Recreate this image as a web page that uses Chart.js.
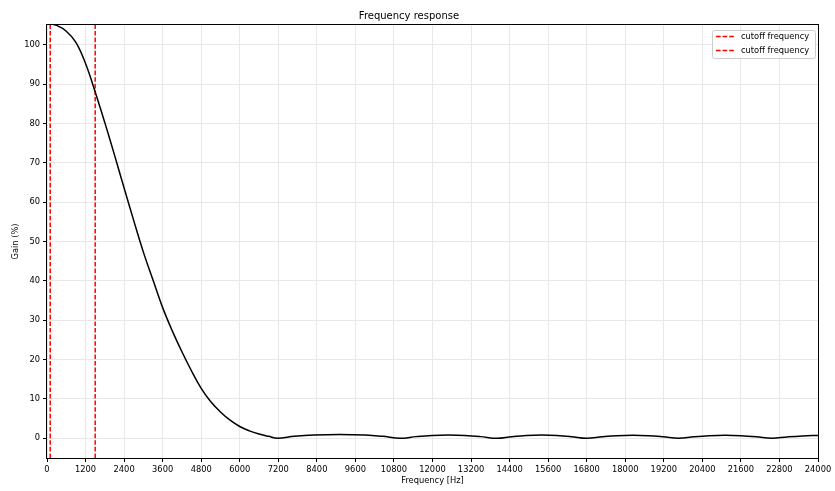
<!DOCTYPE html>
<html>
<head>
<meta charset="utf-8">
<script src="https://cdn.jsdelivr.net/npm/chart.js@4.4.1/dist/chart.umd.min.js"></script>
<style>
  html, body { margin: 0; padding: 0; background: #fff; }
  #wrap { width: 835px; height: 491px; }
</style>
</head>
<body>
<div id="wrap"><canvas id="chart" width="835" height="491"></canvas></div>
<script>
// frequency response (Hz, % gain)
const freqs = [
  0, 300, 600, 900, 1200, 1500, 1800, 2100, 2400, 2700, 3000, 3300,
  3600, 3900, 4200, 4500, 4800, 5100, 5400, 5700, 6000, 6300, 6600, 6900,
  7170, 7700, 8300, 9100, 9900, 10450,
  10990, 11490, 11990, 12500, 13000, 13500,
  14000, 14470, 14930, 15400, 15870, 16330,
  16800, 17280, 17750, 18230, 18710, 19180,
  19660, 20140, 20620, 21110, 21590, 22080,
  22560, 23040, 23520, 24000,
];
const gains = [
  105.4, 104.9, 103.4, 100.6, 95.2, 88.0, 80.2, 72.0, 63.6, 55.3, 47.3, 40.2,
  33.2, 27.3, 22.0, 17.1, 12.7, 9.3, 6.7, 4.6, 3.0, 1.9, 1.1, 0.5,
  0, 0.5, 0.85, 1.0, 0.85, 0.5,
  0, 0.43, 0.74, 0.85, 0.74, 0.43,
  0, 0.41, 0.71, 0.82, 0.71, 0.41,
  0, 0.39, 0.68, 0.78, 0.68, 0.39,
  0, 0.38, 0.65, 0.75, 0.65, 0.38,
  0, 0.36, 0.62, 0.72,
];
const cutoffs = [100, 1500];
const cutoffLabel = 'cutoff frequency';
const xTickValues = [
  0, 1200, 2400, 3600, 4800, 6000, 7200, 8400, 9600, 10800, 12000, 13200,
  14400, 15600, 16800, 18000, 19200, 20400, 21600, 22800, 24000,
];
const yTickValues = [0, 10, 20, 30, 40, 50, 60, 70, 80, 90, 100];

const FONT = 'DejaVu Sans';
const GRID = '#e8e8e8';

const responseData = freqs.map((f, i) => ({x: f, y: gains[i]}));

const cutoffSets = cutoffs.map((c) => ({
  label: cutoffLabel,
  data: [{x: c, y: -5}, {x: c, y: 105}],
  borderColor: '#ff0000',
  borderWidth: 1.5,
  borderDash: [4.6, 2],
  pointRadius: 0,
  fill: false,
}));

// matplotlib-like box around the axes plus the legend in the top right corner
const framePlugin = {
  id: 'frame',
  afterDatasetsDraw(chart) {
    const {ctx, chartArea: a} = chart;
    ctx.save();
    ctx.strokeStyle = '#000';
    ctx.lineWidth = 1;
    ctx.strokeRect(Math.round(a.left) - 0.5, Math.round(a.top) - 0.5,
        Math.round(a.right - a.left) + 1, Math.round(a.bottom - a.top) + 1);

    const items = chart.data.datasets.filter((d) => d.label);
    const boxW = 103;
    const rowH = 13.6;
    const boxH = 28;
    const bx = a.right - 3 - boxW;
    const by = a.top + 5;
    ctx.fillStyle = 'rgba(255,255,255,0.8)';
    ctx.strokeStyle = '#cccccc';
    ctx.lineWidth = 1;
    ctx.beginPath();
    ctx.roundRect(bx + 0.5, by + 0.5, boxW, boxH, 2);
    ctx.fill();
    ctx.stroke();
    ctx.font = '8.3px "' + FONT + '"';
    ctx.textBaseline = 'middle';
    ctx.textAlign = 'left';
    items.forEach((d, i) => {
      const y = Math.round(by + 6 + rowH * i) + 0.5;
      ctx.strokeStyle = d.borderColor;
      ctx.lineWidth = 1.5;
      ctx.setLineDash(d.borderDash || []);
      ctx.beginPath();
      ctx.moveTo(bx + 4, y);
      ctx.lineTo(bx + 22, y);
      ctx.stroke();
      ctx.setLineDash([]);
      ctx.fillStyle = '#000';
      ctx.fillText(d.label, bx + 29, y);
    });
    ctx.restore();
  },
};

new Chart(document.getElementById('chart'), {
  type: 'line',
  data: {
    datasets: [
      {
        data: responseData,
        borderColor: '#000000',
        borderWidth: 1.5,
        pointRadius: 0,
        tension: 0.4,
        fill: false,
      },
      ...cutoffSets,
    ],
  },
  options: {
    responsive: false,
    animation: false,
    parsing: false,
    layout: {
      padding: {left: 0, right: 17, top: 0, bottom: 0},
    },
    plugins: {
      legend: {display: false},
      tooltip: {enabled: false},
      title: {
        display: true,
        text: 'Frequency response',
        color: '#000',
        font: {family: FONT, size: 10, weight: 'normal', lineHeight: 1.2},
        padding: {top: 10, bottom: 3},
      },
    },
    scales: {
      x: {
        type: 'linear',
        min: 0,
        max: 24000,
        afterBuildTicks: (scale) => {
          scale.ticks = xTickValues.map((v) => ({value: v}));
        },
        afterFit: (scale) => {
          scale.height = 33;
        },
        ticks: {
          autoSkip: false,
          maxRotation: 0,
          color: '#000',
          padding: 3,
          font: {family: FONT, size: 8.3},
          callback: (v) => String(v),
        },
        grid: {
          color: GRID,
          lineWidth: 1,
          tickColor: '#000',
          tickLength: 4,
          tickWidth: 1,
        },
        border: {display: false},
        title: {
          display: true,
          text: 'Frequency [Hz]',
          color: '#000',
          font: {family: FONT, size: 8.3, lineHeight: 1.2},
          padding: {top: 0, bottom: 5},
        },
      },
      y: {
        type: 'linear',
        min: -5,
        max: 105,
        afterBuildTicks: (scale) => {
          scale.ticks = yTickValues.map((v) => ({value: v}));
        },
        afterFit: (scale) => {
          scale.width = 47;
        },
        ticks: {
          color: '#000',
          padding: 3,
          font: {family: FONT, size: 8.3},
          callback: (v) => String(v),
        },
        grid: {
          color: GRID,
          lineWidth: 1,
          tickColor: '#000',
          tickLength: 4,
          tickWidth: 1,
        },
        border: {display: false},
        title: {
          display: true,
          text: 'Gain (%)',
          color: '#000',
          font: {family: FONT, size: 8.3, lineHeight: 1.2},
          padding: {top: 11, bottom: 0},
        },
      },
    },
  },
  plugins: [framePlugin],
});
</script>
</body>
</html>
